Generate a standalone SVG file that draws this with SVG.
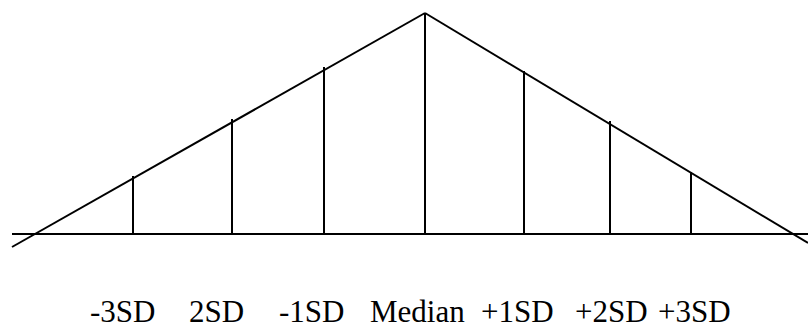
<svg xmlns="http://www.w3.org/2000/svg" width="808" height="329" viewBox="0 0 808 329">
<style>
line{stroke:#000;stroke-width:2;stroke-linecap:butt}
text{font-family:"Liberation Serif","Times New Roman",serif;font-size:31px;fill:#000}
</style>
<rect width="808" height="329" fill="#fff"/>
<g id="connectors">
<line x1="12" y1="234" x2="808" y2="234"/>
<line x1="12" y1="247" x2="425" y2="13"/>
<line x1="425" y1="13" x2="808" y2="243"/>
<line x1="133" y1="176" x2="133" y2="234"/>
<line x1="232" y1="119" x2="232" y2="234"/>
<line x1="324" y1="67" x2="324" y2="234"/>
<line x1="425" y1="13" x2="425" y2="234"/>
<line x1="524" y1="71" x2="524" y2="234"/>
<line x1="610" y1="121" x2="610" y2="234"/>
<line x1="691" y1="172" x2="691" y2="234"/>
</g>
<g id="labels">
<text x="90" y="322">-3SD</text>
<text x="189" y="322">2SD</text>
<text x="279" y="322">-1SD</text>
<text x="370" y="322">Median</text>
<text x="481" y="322">+1SD</text>
<text x="575" y="322">+2SD</text>
<text x="658" y="322">+3SD</text>
</g>
</svg>
